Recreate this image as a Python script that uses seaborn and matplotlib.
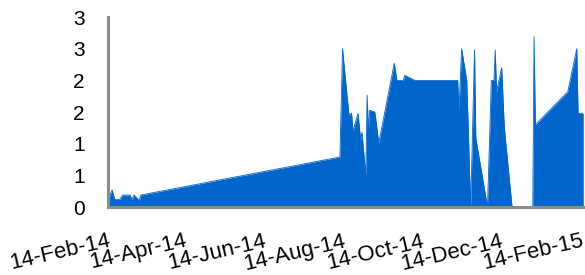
import pandas as pd
import matplotlib
matplotlib.use("Agg")
import matplotlib.pyplot as plt
import matplotlib.dates as mdates
import seaborn as sns

dates = [
    "2014-02-14", "2014-02-17", "2014-02-19", "2014-02-23", "2014-02-25",
    "2014-03-03", "2014-03-04", "2014-03-06", "2014-03-10", "2014-03-11",
    "2014-08-12", "2014-08-14", "2014-08-19", "2014-08-21", "2014-08-22",
    "2014-08-26", "2014-08-28", "2014-08-29", "2014-09-01", "2014-09-02",
    "2014-09-03", "2014-09-04", "2014-09-08", "2014-09-11", "2014-09-23",
    "2014-09-25", "2014-09-30", "2014-10-01", "2014-10-09", "2014-11-11",
    "2014-11-12", "2014-11-14", "2014-11-18", "2014-11-21", "2014-11-24",
    "2014-11-25", "2014-12-04", "2014-12-07", "2014-12-09", "2014-12-10",
    "2014-12-11", "2014-12-15", "2014-12-17", "2014-12-23", "2015-01-08",
    "2015-01-09", "2015-01-10", "2015-02-04", "2015-02-11", "2015-02-12",
    "2015-02-16",
]
values = [
    0.12, 0.27, 0.12, 0.12, 0.19,
    0.19, 0.12, 0.19, 0.10, 0.19,
    0.79, 2.50, 1.45, 1.48, 1.20,
    1.48, 1.06, 1.18, 0.50, 1.77,
    1.22, 1.53, 1.50, 1.01, 2.27,
    2.00, 2.00, 2.08, 2.00, 2.00,
    1.52, 2.50, 2.00, 0.00, 2.48,
    1.09, 0.00, 2.00, 2.00, 2.48,
    1.82, 2.20, 1.26, 0.00, 0.00,
    2.69, 1.30, 1.82, 2.50, 1.48,
    1.48,
]

tick_dates = ["2014-02-14", "2014-04-14", "2014-06-14", "2014-08-14",
              "2014-10-14", "2014-12-14", "2015-02-14"]
y_ticks = [0, 0.5, 1, 1.5, 2, 2.5, 3]
y_labels = ["0", "1", "1", "2", "2", "3", "3"]

df = pd.DataFrame({"date": pd.to_datetime(dates), "value": values})

sns.set_style("white")
plt.rcParams["font.family"] = ["Liberation Sans", "DejaVu Sans"]

blue = "#0066CC"
grey = "#8C8C8C"

fig = plt.figure(figsize=(5.85, 2.75), dpi=100)
ax = fig.add_axes([0.185, 0.247, 0.812, 0.691])

ax.fill_between(df["date"], df["value"], 0, color=blue, linewidth=0)
sns.lineplot(data=df, x="date", y="value", ax=ax, color=blue, linewidth=0.6)

ax.set_xlim(pd.Timestamp("2014-02-14"), pd.Timestamp("2015-02-16"))
ax.set_ylim(0, 3)
ax.set_yticks(y_ticks)
ax.set_yticklabels(y_labels)
ax.set_xticks(pd.to_datetime(tick_dates))
ax.xaxis.set_major_formatter(mdates.DateFormatter("%d-%b-%y"))
ax.set_xlabel("")
ax.set_ylabel("")

for s in ["top", "right"]:
    ax.spines[s].set_visible(False)
for s in ["left", "bottom"]:
    ax.spines[s].set_color(grey)
    ax.spines[s].set_linewidth(2.2)

ax.tick_params(axis="both", direction="out", length=4, width=2, color=grey,
               labelcolor="black")
ax.tick_params(axis="y", pad=13, labelsize=15)
ax.tick_params(axis="x", pad=13, labelsize=16)
for lbl in ax.get_xticklabels():
    lbl.set_rotation(13)
    lbl.set_ha("right")
    lbl.set_va("top")
    lbl.set_rotation_mode("anchor")

fig.savefig("out.png", dpi=100)
